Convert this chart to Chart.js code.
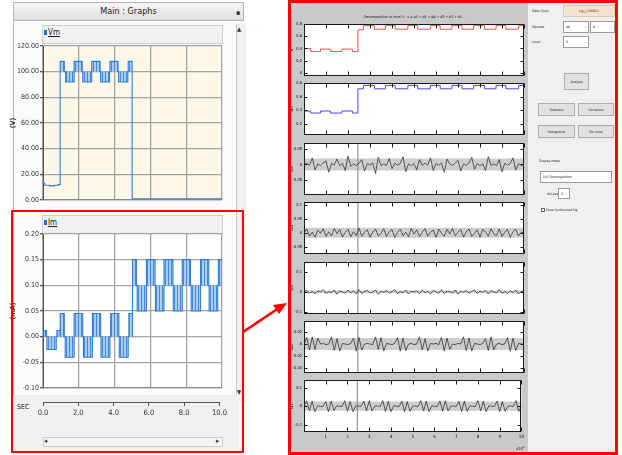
<!DOCTYPE html>
<html><head><meta charset="utf-8">
<script src="https://cdn.jsdelivr.net/npm/chart.js@4.4.0/dist/chart.umd.min.js"></script>
<style>
body{margin:0;width:622px;height:455px;position:relative;background:#fff;overflow:hidden;font-family:"DejaVu Sans Condensed","Liberation Sans",sans-serif;color:#222}
.abs{position:absolute;box-sizing:border-box}
canvas{position:absolute}
.t5{position:absolute;font-size:3.4px;white-space:nowrap;color:#111}
.btn{position:absolute;box-sizing:border-box;background:#e1e1e1;border:1px solid #adadad;font-size:3.4px;display:flex;align-items:center;justify-content:center;color:#111}
.dd{position:absolute;box-sizing:border-box;background:#fff;border:1px solid #9a9a9a;font-size:3.4px;padding-left:2px;line-height:10px;color:#111}
.dd i{position:absolute;right:1px;top:0;font-style:normal;font-size:4px;color:#777}
</style></head><body>

<!-- left window -->
<div class="abs" style="left:13px;top:2px;width:233px;height:452px;background:#fbfbfb;border-left:1px solid #b8b8b8"></div>
<div class="abs" style="left:13px;top:2px;width:231px;height:19px;background:linear-gradient(#f6f6f6,#dedede);border:1px solid #b4b4b4;font-size:9px;text-align:center;line-height:17px;color:#222">Main : Graphs</div>
<div class="abs" style="left:236px;top:9px;font-size:7px;color:#333">▪</div>
<div class="abs" style="left:236px;top:24px;width:10px;height:378px;background:#f0f0f0;border-left:1px solid #c4c4c4"></div>
<div class="abs" style="left:237px;top:25px;font-size:6px;color:#333">▲</div>
<div class="abs" style="left:237px;top:388px;font-size:6px;color:#333">▼</div>

<div class="abs" style="left:42px;top:25px;width:181px;height:19px;background:#f0f0f0;border:1px solid #cfcfcf"></div>
<div class="abs" style="left:44px;top:30px;width:3px;height:5px;background:#1f6fd0"></div>
<div class="abs" style="left:48px;top:28px;font-size:8px;text-decoration:underline;color:#222">Vm</div>

<div class="abs" style="left:42px;top:215px;width:181px;height:19px;background:#f0f0f0;border:1px solid #cfcfcf"></div>
<div class="abs" style="left:44px;top:220px;width:3px;height:5px;background:#1f6fd0"></div>
<div class="abs" style="left:48px;top:218px;font-size:8px;text-decoration:underline;color:#222">Im</div>

<div class="abs" style="left:13px;top:395px;width:226px;height:56px;background:#f0f0f0"></div>
<div class="abs" style="left:17px;top:403px;font-size:7px;color:#222">SEC</div>
<div class="abs" style="left:43px;top:437px;width:180px;height:10px;background:#f4f4f4;border:1px solid #cfcfcf"></div>
<div class="abs" style="left:44px;top:437px;font-size:7px;color:#333">◂</div>
<div class="abs" style="left:216px;top:437px;font-size:7px;color:#333">▸</div>

<canvas id="vm" width="230" height="166" style="left:0;top:40px"></canvas>
<canvas id="im" width="230" height="166" style="left:0;top:228px"></canvas>
<canvas id="sec" width="230" height="30" style="left:0;top:396px"></canvas>

<!-- right window -->
<div class="abs" style="left:290px;top:3px;width:326px;height:449px;background:#c9c9c9"></div>
<div class="abs" style="left:528px;top:3px;width:88px;height:449px;background:#f0f0f0"></div>
<div class="t5" style="left:304px;top:15px;width:220px;text-align:center;font-size:3.6px">Decomposition at level 5 : s = a5 + d5 + d4 + d3 + d2 + d1 .</div>
<div class="t5" style="left:516px;top:445px;font-size:4px">x10<sup style="font-size:3px">4</sup></div>

<div class="t5" style="left:532px;top:9px">Data (Size)</div>
<div class="abs" style="left:563px;top:5px;width:52px;height:12px;background:#f3e4d2;border:1px solid #d8c8b4;font-size:3.4px;text-align:center;line-height:10px">sig_j (10042)</div>
<div class="t5" style="left:532px;top:25px">Wavelet</div>
<div class="dd" style="left:563px;top:21px;width:26px;height:12px">db<i>⌄</i></div>
<div class="dd" style="left:590px;top:21px;width:25px;height:12px">4<i>⌄</i></div>
<div class="t5" style="left:532px;top:40px">Level</div>
<div class="dd" style="left:563px;top:36px;width:26px;height:12px">5<i>⌄</i></div>
<div class="btn" style="left:564px;top:73px;width:25px;height:17px">Analyze</div>
<div class="btn" style="left:538px;top:103px;width:37px;height:13px">Statistics</div>
<div class="btn" style="left:578px;top:103px;width:36px;height:13px">Compress</div>
<div class="btn" style="left:538px;top:125px;width:37px;height:13px">Histograms</div>
<div class="btn" style="left:578px;top:125px;width:36px;height:13px">De-noise</div>
<div class="t5" style="left:539px;top:159px">Display mode</div>
<div class="dd" style="left:540px;top:171px;width:72px;height:12px">Full Decomposition<i>⌄</i></div>
<div class="t5" style="left:547px;top:192px">sfd axes</div>
<div class="dd" style="left:558px;top:188px;width:12px;height:11px">5<i>⌄</i></div>
<div class="abs" style="left:541px;top:208px;width:4px;height:4px;border:1px solid #666;background:#fff"></div>
<div class="t5" style="left:546px;top:208px;font-size:3.2px">Show Synthesized Sig</div>

<canvas id="p0" width="242" height="60" style="left:284px;top:20px"></canvas>
<canvas id="p1" width="242" height="60" style="left:284px;top:79px"></canvas>
<canvas id="p2" width="242" height="60" style="left:284px;top:139px"></canvas>
<canvas id="p3" width="242" height="60" style="left:284px;top:198px"></canvas>
<canvas id="p4" width="242" height="60" style="left:284px;top:258px"></canvas>
<canvas id="p5" width="242" height="60" style="left:284px;top:317px"></canvas>
<canvas id="p6" width="242" height="72" style="left:284px;top:376px"></canvas>

<!-- red highlight boxes and arrow -->
<div class="abs" style="left:11px;top:210px;width:233px;height:243px;border:2.5px solid #ff0000"></div>
<div class="abs" style="left:288px;top:0px;width:330px;height:455px;border:3px solid #ff0000"></div>
<svg class="abs" style="left:0;top:0" width="622" height="455">
  <line x1="243" y1="332" x2="279" y2="308" stroke="#ff0000" stroke-width="2.6"/>
  <polygon points="287,303 273,305 279,314" fill="#ff0000"/>
</svg>

<script>
// ---------------- data: left panel (Vm / Im vs time, sec) ----------------
const vmLowT = [0, 0.1, 0.35, 0.65, 0.85];
const vmLowV = [13, 11.5, 11, 11.5, 12];
const vmPulseStart = [0.96, 1.26, 1.74, 2.22, 2.72, 3.22, 3.74, 4.22, 4.76];
const vmPulseEnd   = [1.19, 1.74, 2.19, 2.72, 3.19, 3.72, 4.19, 4.74, 4.98];
const vmPulseLevel = [108, 92, 108, 92, 108, 92, 108, 92, 108];
const vmBase = 100;
const vmTail = 1;

const imPulseStartA = [0.04, 0.22, 0.78, 0.96, 1.24, 1.74, 2.26, 2.76, 3.24, 3.78, 4.26, 4.8];
const imPulseEndA   = [0.2, 0.74, 0.96, 1.19, 1.74, 2.22, 2.76, 3.22, 3.74, 4.24, 4.76, 5.0];
const imPulseLevelA = [0.012, -0.025, 0.012, 0.045, -0.04, 0.045, -0.04, 0.045, -0.04, 0.045, -0.04, 0.045];
const imBaseA = 0;
const imPulseStartB = [5.0, 5.26, 5.78, 6.28, 6.76, 7.28, 7.78, 8.28, 8.8, 9.28, 9.8];
const imPulseEndB   = [5.22, 5.78, 6.26, 6.76, 7.26, 7.78, 8.24, 8.8, 9.26, 9.76, 10];
const imPulseLevelB = [0.15, 0.05, 0.15, 0.05, 0.15, 0.05, 0.15, 0.05, 0.15, 0.05, 0.15];
const imBaseB = 0.1;

const vmTicks = [0, 20, 40, 60, 80, 100, 120];
const imTicks = [-0.10, -0.05, 0, 0.05, 0.10, 0.15, 0.20];
const secTicks = [0, 2, 4, 6, 8, 10];

// ---------------- data: right panel (wavelet decomposition, x in 1e4 samples) ----------------
const sT = [0, 0.02, 0.3, 0.75, 1.2, 1.72, 2.2, 2.45, 2.7, 3.2, 3.7, 4.15, 4.72, 5.17, 5.74, 6.19, 6.72, 7.18, 7.71, 8.21, 8.73, 9.18, 9.76, 10];
const sY = [0, 0.40, 0.35, 0.39, 0.35, 0.39, 0.35, 0.71, 0.78, 0.72, 0.78, 0.72, 0.78, 0.72, 0.78, 0.72, 0.78, 0.72, 0.78, 0.72, 0.78, 0.72, 0.78, 0.78];
const a5Y = [0.05, 0.39, 0.36, 0.39, 0.36, 0.39, 0.36, 0.72, 0.77, 0.72, 0.77, 0.72, 0.77, 0.72, 0.77, 0.72, 0.77, 0.72, 0.77, 0.72, 0.77, 0.72, 0.77, 0.77];

const dStep = 0.125;
const d5Vals = [0, .004, -.003, .022, -.018, .002, -.004, .005, .012, -.026,
  .003, -.002, .018, -.004, .003, -.02, .028, -.006, .002, -.003,
  .004, .016, -.022, .003, -.002, .005, -.03, .024, -.004, .002,
  -.003, .02, -.014, .004, -.002, .003, .026, -.024, .002, -.004,
  .003, -.018, .016, -.003, .004, -.002, .022, -.02, .003, -.002,
  .004, -.026, .018, .002, -.003, .004, .014, -.022, .002, -.003,
  .005, .024, -.016, .003, -.004, .002, -.02, .026, -.003, .002,
  -.004, .016, -.024, .004, -.002, .003, .022, -.018, .002, -.003, 0];
const d4Vals = [0, .014, -.012, .003, -.016, .01, -.002, .015, -.013, .004,
  -.011, .016, -.003, .012, -.015, .002, .013, -.014, .004, -.01,
  .017, -.012, .002, .011, -.016, .003, .014, -.011, -.002, .015,
  -.013, .004, .012, -.017, .002, .013, -.01, .003, -.014, .016,
  -.004, .011, -.013, .002, .015, -.012, .003, .01, -.016, .014,
  -.002, -.012, .013, -.004, .016, -.011, .002, .012, -.015, .003,
  .014, -.013, -.002, .011, -.016, .013, .003, -.012, .015, -.004,
  -.01, .014, -.013, .002, .012, -.016, .004, .013, -.011, .002, 0];
const d3Vals = [0, .008, -.006, .002, -.01, .006, 0, .012, -.008, .002,
  -.004, .01, -.012, .004, 0, -.006, .01, -.004, .006, -.01,
  .012, -.008, .002, .008, -.006, 0, .01, -.012, .004, -.002,
  .008, -.006, .002, .012, -.008, .002, -.004, .01, -.01, .004,
  0, .006, -.008, .01, -.004, .002, -.01, .008, 0, -.006,
  .012, -.008, .004, .002, -.006, .01, -.012, .004, -.002, .008,
  -.006, .002, .01, -.008, .004, -.002, .008, -.01, .006, 0,
  -.006, .012, -.006, .002, -.008, .006, -.004, .01, -.01, .004, 0];
const d2Vals = [0, .011, -.01, .012, -.009, .01, 0, .001, -.001, 0,
  .012, -.011, .009, -.012, .001, 0, -.001, .001, .01, -.012,
  .011, -.01, 0, .001, 0, -.001, .012, -.009, .011, -.012,
  .001, 0, -.001, .001, .011, -.012, .01, -.011, 0, .001,
  -.001, 0, .012, -.01, .009, -.012, .001, 0, .001, -.001,
  .011, -.012, .01, -.009, 0, -.001, .001, 0, .012, -.011,
  .01, -.012, .001, 0, -.001, .001, .009, -.011, .012, -.01,
  0, .001, -.001, 0, .011, -.012, .01, -.011, .001, 0, 0];
const d1Vals = [0, .03, -.025, .028, -.03, .002, 0, -.002, .026, -.03,
  .028, -.024, .002, 0, -.002, .03, -.028, .025, -.03, 0,
  .002, -.002, .028, -.026, .03, -.025, 0, .002, -.002, .03,
  -.028, .026, -.03, .002, 0, -.002, .027, -.03, .025, -.028,
  0, .002, -.002, .03, -.026, .028, -.03, .002, 0, -.002,
  .029, -.027, .03, -.025, 0, .002, -.002, .026, -.03, .028,
  -.028, .002, 0, -.002, .03, -.025, .028, -.03, .002, 0,
  -.002, .028, -.03, .026, -.027, 0, .002, -.002, .03, -.028, 0];

const bandX = [0, 10];
const d5Band = [0.02, 0.02];
const d4Band = [0.018, 0.018];
const d3Band = [0.007, 0.007];
const d2Band = [0.01, 0.01];
const d1Band = [0.025, 0.025];
const markerX = 2.45;

const sTicks = [0, 0.2, 0.4, 0.6, 0.8];
const a5Ticks = [0.2, 0.4, 0.6, 0.8];
const d5Ticks = [-0.05, 0, 0.05];
const d4Ticks = [-0.05, 0, 0.05, 0.1];
const d3Ticks = [-0.1, 0, 0.1];
const d2Ticks = [-0.04, -0.02, 0, 0.02];
const d1Ticks = [-0.1, 0, 0.1];
const plotRanges = {s: [-0.05, 0.8], a5: [0.04, 0.8], d5: [-0.1, 0.07], d4: [-0.075, 0.11], d3: [-0.11, 0.15], d2: [-0.048, 0.038], d1: [-0.14, 0.14]};

// ---------------- helpers ----------------
const F = "'DejaVu Sans Condensed','Liberation Sans',sans-serif";

function stepPts(starts, ends, levels, base) {
  const pts = [];
  starts.forEach((s, i) => { pts.push({x: s, y: levels[i]}); pts.push({x: ends[i], y: base}); });
  return pts;
}
function stripes() {
  const c = document.createElement('canvas'); c.width = 3; c.height = 4;
  const g = c.getContext('2d');
  g.fillStyle = 'rgba(160,200,242,0.9)'; g.fillRect(0, 0, 3, 4);
  g.fillStyle = 'rgba(60,130,212,0.9)'; g.fillRect(0, 0, 1, 4);
  return g.createPattern(c, 'repeat');
}
const areaBg = {
  id: 'areaBg',
  beforeDraw(chart, args, opts) {
    const a = chart.chartArea; if (!opts.color) return;
    chart.ctx.save(); chart.ctx.fillStyle = opts.color;
    chart.ctx.fillRect(a.left, a.top, a.right - a.left, a.bottom - a.top); chart.ctx.restore();
  }
};
const matlabBox = {
  id: 'matlabBox',
  afterDraw(chart) {
    const {ctx, chartArea: a, scales: {x, y}} = chart;
    ctx.save(); ctx.strokeStyle = '#1a1a1a'; ctx.lineWidth = 1;
    const L = Math.round(a.left) + 0.5, R = Math.round(a.right) - 0.5, T = Math.round(a.top) + 0.5, B = Math.round(a.bottom) - 0.5;
    ctx.strokeRect(L, T, R - L, B - T);
    ctx.beginPath();
    x.ticks.forEach(t => { const p = Math.round(x.getPixelForValue(t.value)) + 0.5; ctx.moveTo(p, T); ctx.lineTo(p, T + 4); ctx.moveTo(p, B); ctx.lineTo(p, B - 4); });
    y.ticks.forEach(t => { const p = Math.round(y.getPixelForValue(t.value)) + 0.5; ctx.moveTo(L, p); ctx.lineTo(L + 3, p); ctx.moveTo(R, p); ctx.lineTo(R - 3, p); });
    ctx.stroke(); ctx.restore();
  }
};
const fmt = v => String(+Number(v).toFixed(3));

// ---------------- left charts ----------------
const vmOutline = vmLowT.map((t, i) => ({x: t, y: vmLowV[i]}))
  .concat(stepPts(vmPulseStart, vmPulseEnd, vmPulseLevel, vmBase))
  .concat([{x: vmPulseEnd[vmPulseEnd.length - 1], y: vmTail}, {x: 10, y: vmTail}]);
const imOutline = [{x: 0, y: imBaseA}]
  .concat(stepPts(imPulseStartA, imPulseEndA, imPulseLevelA, imBaseA))
  .concat(stepPts(imPulseStartB, imPulseEndB, imPulseLevelB, imBaseB));

function leftChart(id, outline, fills, ticks, min, max, title, dec, bg) {
  const pat = stripes();
  const ds = [{data: outline, stepped: true, borderColor: '#2f7fd8', borderWidth: 1.1, pointRadius: 0, fill: false}];
  fills.forEach(f => ds.push({data: f.pts, stepped: true, borderColor: 'rgba(0,0,0,0)', borderWidth: 0, pointRadius: 0, fill: {value: f.base}, backgroundColor: pat}));
  return new Chart(document.getElementById(id), {
    type: 'line',
    data: {datasets: ds},
    options: {
      responsive: false, animation: false, devicePixelRatio: 1,
      layout: {padding: {left: 9, right: 8, top: 6, bottom: 6}},
      plugins: {legend: {display: false}, tooltip: {enabled: false}, areaBg: {color: bg}},
      scales: {
        x: {type: 'linear', min: 0, max: 10, ticks: {stepSize: 2, display: false}, grid: {color: '#a3a3a3', lineWidth: 1.3, drawTicks: false}, border: {color: '#8a8a8a', width: 1.3}, afterFit: s => { s.height = 0; }},
        y: {min: min, max: max, afterBuildTicks: ax => { ax.ticks = ticks.map(v => ({value: v})); },
            ticks: {font: {size: 7, family: F}, color: '#333', padding: 1, callback: v => Number(v).toFixed(dec)},
            grid: {color: '#a3a3a3', lineWidth: 1.3, tickLength: 3, tickColor: '#555'}, border: {color: '#555', width: 1},
            title: {display: true, text: title, font: {size: 7, family: F, weight: 'bold'}, color: '#333', padding: 0},
            afterFit: s => { s.width = 34; }}
      }
    },
    plugins: [areaBg]
  });
}
leftChart('vm', vmOutline, [{pts: stepPts(vmPulseStart, vmPulseEnd, vmPulseLevel, vmBase), base: vmBase}], vmTicks, 0, 120, '(V)', 2, '#fdf8e7');
leftChart('im', imOutline, [
  {pts: stepPts(imPulseStartA, imPulseEndA, imPulseLevelA, imBaseA), base: imBaseA},
  {pts: stepPts(imPulseStartB, imPulseEndB, imPulseLevelB, imBaseB), base: imBaseB}
], imTicks, -0.10, 0.20, '(mA)', 2, '#ffffff');

new Chart(document.getElementById('sec'), {
  type: 'line', data: {datasets: []},
  options: {
    responsive: false, animation: false, devicePixelRatio: 1,
    layout: {padding: {left: 43, right: 8, top: 0, bottom: 0}},
    plugins: {legend: {display: false}, tooltip: {enabled: false}},
    scales: {
      x: {type: 'linear', min: 0, max: 10, afterBuildTicks: ax => { ax.ticks = secTicks.map(v => ({value: v})); },
          ticks: {font: {size: 7.5, family: F}, color: '#333', padding: 3, maxRotation: 0, callback: v => Number(v).toFixed(1)},
          grid: {drawOnChartArea: false, tickLength: 4, color: '#555'}, border: {color: '#555', width: 1},
          afterFit: s => { s.height = 24; }},
      y: {display: false, min: 0, max: 1}
    }
  }
});

// ---------------- right charts ----------------
const pts = (xs, ys) => ys.map((v, i) => ({x: xs[i], y: v}));
const dPts = vals => vals.map((v, i) => ({x: i * dStep, y: v}));
function detailSets(vals, band, range) {
  return [
    {data: dPts(vals), borderColor: '#222', borderWidth: 0.7, pointRadius: 0, fill: false},
    {data: [{x: markerX, y: range[0]}, {x: markerX, y: range[1]}], borderColor: '#808080', borderWidth: 1, pointRadius: 0, fill: false},
    {data: pts(bandX, band), borderWidth: 0, pointRadius: 0, fill: 'origin', backgroundColor: '#cdcdcd'},
    {data: pts(bandX, band.map(b => -b)), borderWidth: 0, pointRadius: 0, fill: 'origin', backgroundColor: '#cdcdcd'}
  ];
}
function matlabChart(id, datasets, range, yTicks, yTitle, showX) {
  return new Chart(document.getElementById(id), {
    type: 'line',
    data: {datasets: datasets},
    options: {
      responsive: false, animation: false, devicePixelRatio: 1,
      layout: {padding: {left: 4, right: 2, top: 4, bottom: 4}},
      plugins: {legend: {display: false}, tooltip: {enabled: false}, areaBg: {color: '#ffffff'}},
      elements: {line: {tension: 0}},
      scales: {
        x: {type: 'linear', min: 0, max: 10, ticks: {stepSize: 1, display: showX, font: {size: 4.5, family: F}, color: '#000', padding: 2, maxRotation: 0, callback: v => v === 0 ? '' : v},
            grid: {display: false, drawTicks: false}, border: {display: false}, afterFit: s => { s.height = showX ? 12 : 0; }},
        y: {min: range[0], max: range[1], afterBuildTicks: ax => { ax.ticks = yTicks.map(v => ({value: v})); },
            ticks: {font: {size: 4, family: F}, color: '#000', padding: 2, callback: v => fmt(v)},
            grid: {display: false, drawTicks: false}, border: {display: false},
            title: {display: true, text: yTitle, font: {size: 6, family: F}, color: '#000', padding: 0},
            afterFit: s => { s.width = 16; }}
      }
    },
    plugins: [areaBg, matlabBox]
  });
}
matlabChart('p0', [{data: pts(sT, sY), stepped: true, borderColor: '#ff5050', borderWidth: 1, pointRadius: 0}], plotRanges.s, sTicks, 's', false);
matlabChart('p1', [{data: pts(sT, a5Y), stepped: true, borderColor: '#4646ff', borderWidth: 1, pointRadius: 0}], plotRanges.a5, a5Ticks, 'a₅', false);
matlabChart('p2', detailSets(d5Vals, d5Band, plotRanges.d5), plotRanges.d5, d5Ticks, 'd₅', false);
matlabChart('p3', detailSets(d4Vals, d4Band, plotRanges.d4), plotRanges.d4, d4Ticks, 'd₄', false);
matlabChart('p4', detailSets(d3Vals, d3Band, plotRanges.d3), plotRanges.d3, d3Ticks, 'd₃', false);
matlabChart('p5', detailSets(d2Vals, d2Band, plotRanges.d2), plotRanges.d2, d2Ticks, 'd₂', false);
matlabChart('p6', detailSets(d1Vals, d1Band, plotRanges.d1), plotRanges.d1, d1Ticks, 'd₁', true);
</script>
</body></html>
